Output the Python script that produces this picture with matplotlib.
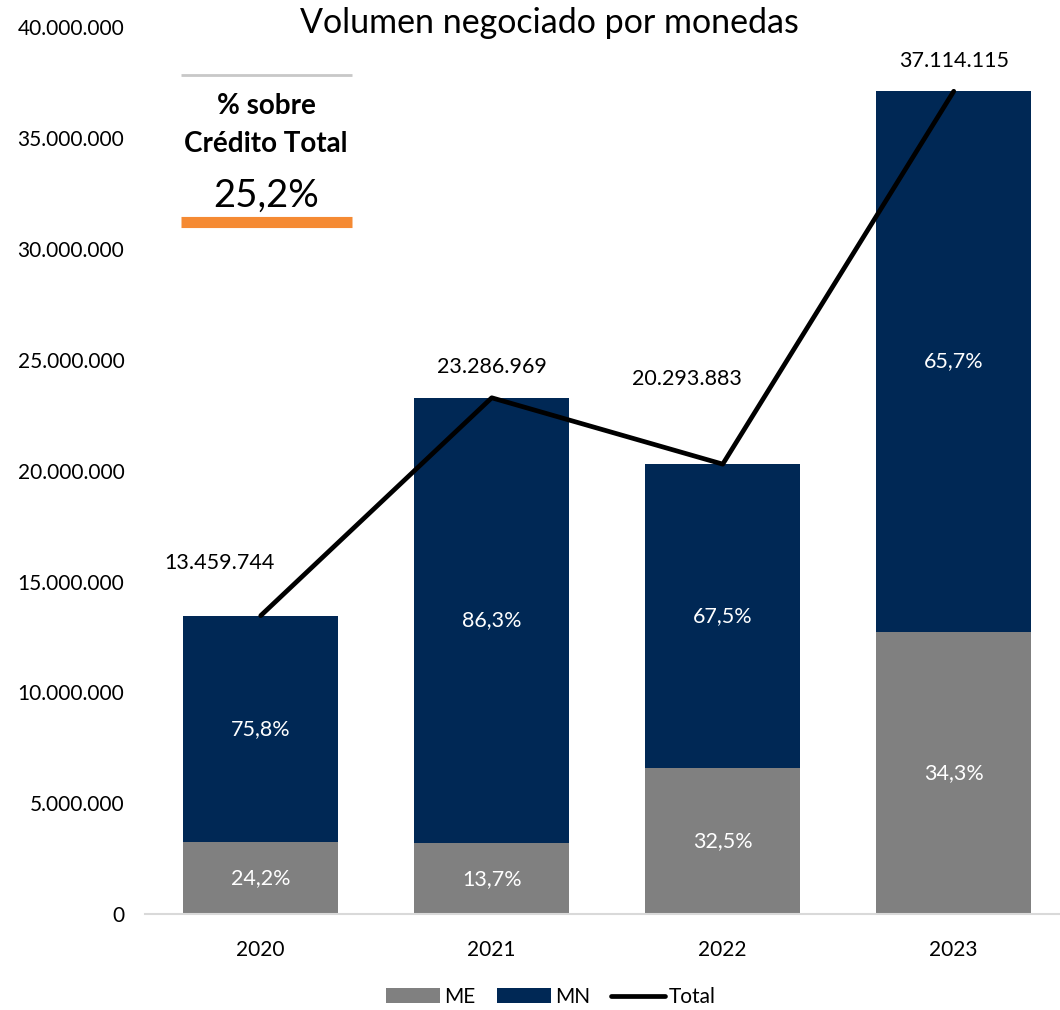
import matplotlib
import matplotlib.pyplot as plt
from matplotlib.ticker import FuncFormatter

plt.rcParams['font.family'] = ['Lato', 'DejaVu Sans']

years = ['2020', '2021', '2022', '2023']
me = [3257258, 3190275, 6595512, 12730141]
mn = [10202486, 20096694, 13698371, 24383974]
total = [13459744, 23286969, 20293883, 37114115]
me_pct = ['24,2%', '13,7%', '32,5%', '34,3%']
mn_pct = ['75,8%', '86,3%', '67,5%', '65,7%']
total_labels = ['13.459.744', '23.286.969', '20.293.883', '37.114.115']
credito_pct = '25,2%'

c_me = '#808080'
c_mn = '#002855'

fig = plt.figure(figsize=(10.6, 10.1), dpi=100)
ax = fig.add_axes([0.137, 0.095, 0.863, 0.878])
x = list(range(len(years)))

ax.bar(x, me, width=0.67, color=c_me, label='ME', zorder=2)
ax.bar(x, mn, width=0.67, bottom=me, color=c_mn, label='MN', zorder=2)
ax.plot(x, total, color='black', linewidth=3.4, label='Total', zorder=3,
        solid_capstyle='round')

for i in x:
    ax.text(i, me[i] / 2, me_pct[i], color='white', ha='center', va='center', fontsize=15.5)
    ax.text(i, me[i] + mn[i] / 2, mn_pct[i], color='white', ha='center', va='center', fontsize=15.5)

# value labels above the line
lab_dx = [-0.18, 0, -0.155, 0]
lab_dy = [2370000, 1390000, 3840000, 1360000]
for i in x:
    ax.text(i + lab_dx[i], total[i] + lab_dy[i], total_labels[i], ha='center', va='center',
            fontsize=15.5, color='black')

ax.set_xlim(-0.5, 3.46)
ax.set_ylim(0, 40000000)
ax.set_yticks(range(0, 40000001, 5000000))
ax.yaxis.set_major_formatter(FuncFormatter(lambda v, p: f'{int(v):,}'.replace(',', '.')))
ax.set_xticks(x)
ax.set_xticklabels(years)
ax.tick_params(axis='both', length=0, labelsize=15)
ax.tick_params(axis='x', pad=19)
ax.tick_params(axis='y', pad=15)
for s in ['top', 'right', 'left']:
    ax.spines[s].set_visible(False)
ax.spines['bottom'].set_color('#D9D9D9')
ax.spines['bottom'].set_linewidth(1.5)

fig.text(0.518, 0.977, 'Volumen negociado por monedas', ha='center', va='center', fontsize=24.5)

# % sobre credito total box
fig.add_artist(matplotlib.lines.Line2D([0.171, 0.332], [0.926, 0.926], color='#C8C8C8',
                                       linewidth=2, solid_capstyle='butt'))
fig.text(0.251, 0.895, '% sobre', ha='center', va='center', fontsize=20, fontweight='bold')
fig.text(0.251, 0.857, 'Crédito Total', ha='center', va='center', fontsize=20, fontweight='bold')
fig.text(0.251, 0.806, credito_pct, ha='center', va='center', fontsize=27.5)
fig.add_artist(matplotlib.lines.Line2D([0.171, 0.332], [0.780, 0.780], color='#F58A33',
                                       linewidth=8, solid_capstyle='butt'))

handles, labels = ax.get_legend_handles_labels()
order = [labels.index('ME'), labels.index('MN'), labels.index('Total')]
fig.legend([handles[k] for k in order], [labels[k] for k in order],
           loc='center', bbox_to_anchor=(0.52, 0.013), ncol=3, frameon=False, fontsize=15,
           handlelength=2.6, handletextpad=0.2, columnspacing=1.0)

plt.savefig('out.png')
plt.close()
